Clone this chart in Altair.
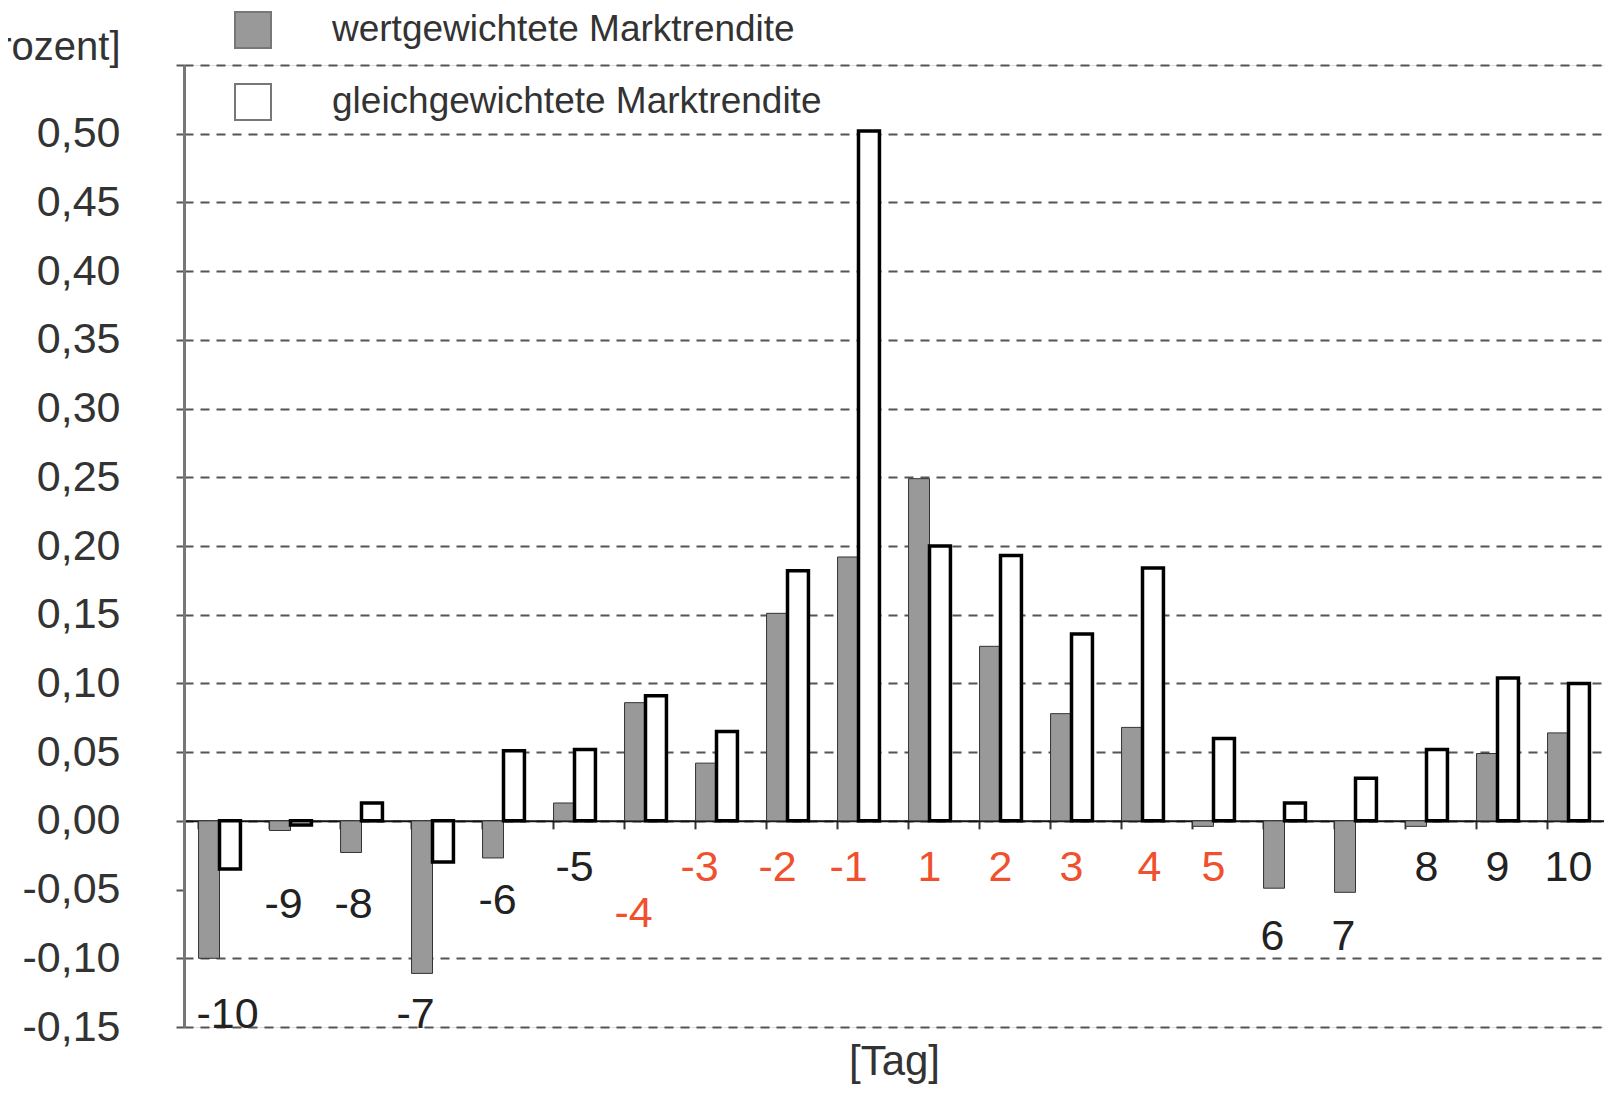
import altair as alt
import pandas as pd

days = [-10, -9, -8, -7, -6, -5, -4, -3, -2, -1, 1, 2, 3, 4, 5, 6, 7, 8, 9, 10]
wert = [-0.100, -0.007, -0.023, -0.111, -0.027, 0.013, 0.086, 0.042, 0.151, 0.192,
        0.249, 0.127, 0.078, 0.068, -0.004, -0.049, -0.052, -0.004, 0.049, 0.064]
gleich = [-0.035, -0.003, 0.013, -0.030, 0.051, 0.052, 0.091, 0.065, 0.182, 0.502,
          0.200, 0.193, 0.136, 0.184, 0.060, 0.013, 0.031, 0.052, 0.104, 0.100]
series = ["wertgewichtete Marktrendite", "gleichgewichtete Marktrendite"]
y_ticks = [-0.15, -0.10, -0.05, 0.00, 0.05, 0.10, 0.15, 0.20, 0.25, 0.30, 0.35, 0.40, 0.45, 0.50, 0.55]

rows = []
for d, w, g in zip(days, wert, gleich):
    rows.append({"Tag": d, "Serie": series[0], "Wert": w})
    rows.append({"Tag": d, "Serie": series[1], "Wert": g})
df = pd.DataFrame(rows)

W, H = 1420, 962
ymin, ymax = -0.15, 0.55
zero_offset = -H * (0 - ymin) / (ymax - ymin)

FONT = "Liberation Sans"
TXT = "#333333"

label_pad = ("(datum.value == -10 || datum.value == -7) ? 186 : "
             "(datum.value == -9 || datum.value == -8) ? 76 : "
             "datum.value == -6 ? 72 : datum.value == -4 ? 85 : "
             "(datum.value == 6 || datum.value == 7) ? 108 : 39")
label_off = ("datum.value == -10 ? 8 : datum.value == -9 ? -7 : datum.value == -8 ? -8 : "
             "datum.value == -7 ? -17 : datum.value == -6 ? -6 : datum.value == -4 ? -12 : "
             "datum.value == -3 ? -17 : (datum.value == -2 || datum.value == -1) ? -10 : "
             "datum.value == 4 ? 7 : (datum.value == 6 || datum.value == 7) ? -12 : 0")
label_col = "(datum.value >= -4 && datum.value <= 5) ? '#F0502D' : '#222222'"

chart = alt.Chart(df).mark_bar().encode(
    x=alt.X("Tag:O", sort=days,
            scale=alt.Scale(paddingInner=0.41, paddingOuter=0.205),
            axis=alt.Axis(
                title="[Tag]", titleFont=FONT, titleFontSize=42, titleFontWeight="normal",
                titleColor=TXT, titleY=254, titleBaseline="alphabetic",
                offset=zero_offset, labelAngle=0, labelFont=FONT, labelFontSize=43,
                labelColor={"expr": label_col}, labelPadding={"expr": label_pad},
                labelOffset={"expr": label_off},
                labelBaseline="middle", bandPosition=0, tickSize=8, tickWidth=2,
                tickColor="#333333", domainColor="#111111", domainWidth=2,
                grid=False, labelOverlap=False)),
    xOffset=alt.XOffset("Serie:N", sort=series, scale=alt.Scale(paddingInner=0, paddingOuter=0)),
    y=alt.Y("Wert:Q", scale=alt.Scale(domain=[ymin, ymax], nice=False, zero=False),
            axis=alt.Axis(
                title="[Prozent]", titleAngle=0, titleX=-64, titleY=-6, titleAlign="right",
                titleBaseline="alphabetic", titleFont=FONT, titleFontSize=40,
                titleFontWeight="normal", titleColor=TXT,
                values=y_ticks,
                labelExpr="datum.value > 0.52 ? '' : (datum.value < -0.0001 ? '-' : '') + replace(format(abs(datum.value), '.2f'), '.', ',')",
                labelFont=FONT, labelFontSize=43, labelColor=TXT, labelPadding=56,
                tickSize=8, tickWidth=2, tickColor="#555555",
                domainColor="#777777", domainWidth=3,
                grid=True, gridColor="#555555", gridDash=[9, 7], gridWidth=2,
                gridOpacity={"expr": "abs(datum.value + 0.05) < 0.001 ? 0 : 1"})),
    color=alt.Color("Serie:N", sort=series,
                    scale=alt.Scale(domain=series, range=["#999999", "#ffffff"]),
                    legend=alt.Legend(
                        title=None, orient="none", legendX=50, legendY=-54,
                        symbolType="square", symbolSize=1296, symbolStrokeColor="#777777",
                        symbolStrokeWidth=2, labelFont=FONT, labelFontSize=37, labelColor=TXT,
                        labelOffset=60, rowPadding=28, labelLimit=800)),
    stroke=alt.condition(alt.datum.Serie == series[1], alt.value("#000000"), alt.value("#333333")),
    strokeWidth=alt.condition(alt.datum.Serie == series[1], alt.value(3.5), alt.value(1)),
).properties(
    width=W, height=H,
    autosize=alt.AutoSizeParams(type="none"),
    padding={"left": 176, "top": 57, "right": 0, "bottom": 60},
).configure_view(stroke=None).configure(background="white")

chart.save("out.html", embed_options={"renderer": "svg", "actions": False})
